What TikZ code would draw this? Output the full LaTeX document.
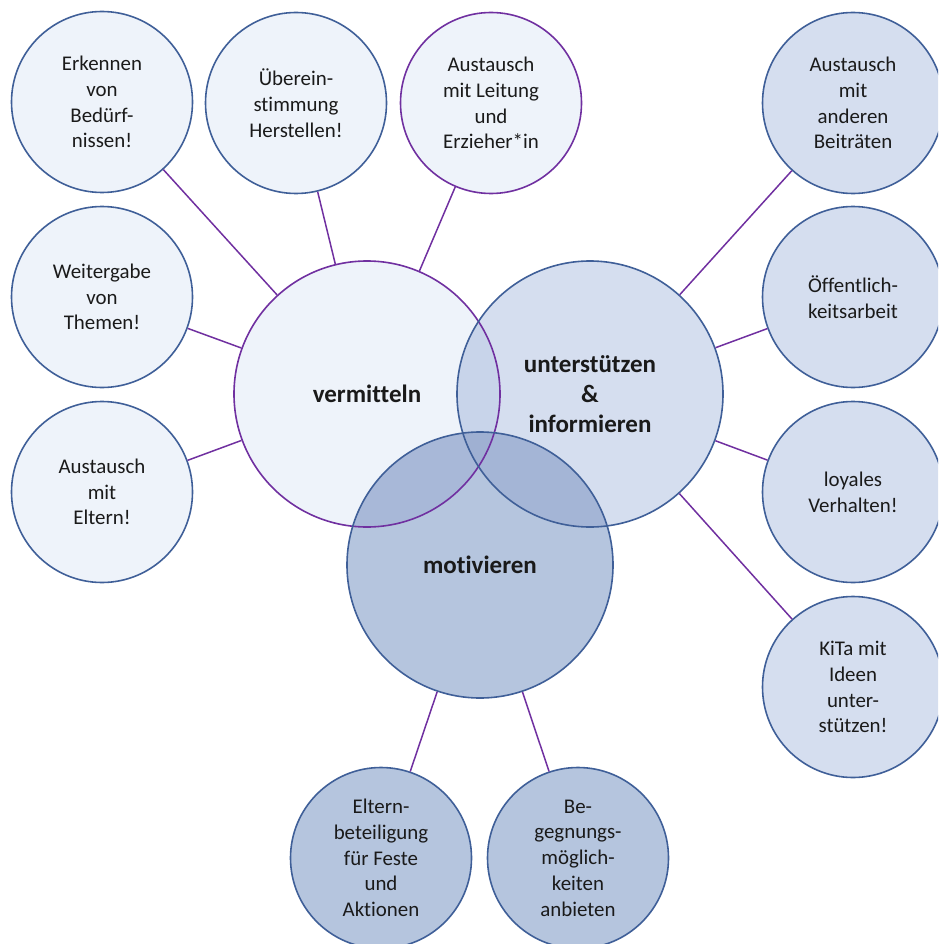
\documentclass[tikz,border=0pt]{standalone}
\usepackage{fontspec}
\setmainfont{Carlito}[Ligatures={NoCommon}]
\definecolor{lightfill}{HTML}{EEF3FA}
\definecolor{midfill}{HTML}{D5DEEF}
\definecolor{darkfill}{HTML}{B5C5DE}
\definecolor{vuover}{HTML}{C8D4EA}
\definecolor{vmover}{HTML}{A8B8D8}
\definecolor{umover}{HTML}{A4B5D6}
\definecolor{vumover}{HTML}{9FB0D2}
\definecolor{bordblue}{HTML}{3F5F98}
\definecolor{purp}{HTML}{7030A0}
\definecolor{txt}{HTML}{1A1A1A}
\begin{document}
\begin{tikzpicture}[x=1pt,y=-1pt,
  smallc/.style={circle, minimum size=181pt, inner sep=0pt, draw=bordblue, line width=1.6pt,
    align=center, text=txt, font=\fontsize{20.9}{25.8}\selectfont},
  bigc/.style={circle, minimum size=266pt, inner sep=0pt, draw=bordblue, line width=1.6pt,
    align=center, text=txt, font=\fontsize{25}{30}\selectfont\bfseries},
  conn/.style={draw=purp, line width=1.5pt}]
\useasboundingbox (0,0) rectangle (938,944);
\clip (0,0) rectangle (938,944);
\coordinate (cV) at (367,394);
\coordinate (cU) at (590,394);
\coordinate (cM) at (480,565);
% fills of the three big circles with overlaps
\fill[lightfill] (cV) circle (133pt);
\fill[midfill] (cU) circle (133pt);
\begin{scope}\clip (cV) circle (133pt);\fill[vuover] (cU) circle (133pt);\end{scope}
\fill[darkfill] (cM) circle (133pt);
\begin{scope}\clip (cM) circle (133pt);\fill[vmover] (cV) circle (133pt);\end{scope}
\begin{scope}\clip (cM) circle (133pt);\fill[umover] (cU) circle (133pt);\end{scope}
\begin{scope}\clip (cM) circle (133pt);\clip (cV) circle (133pt);\fill[vumover] (cU) circle (133pt);\end{scope}
% big nodes
\node[bigc, draw=purp] (V) at (cV) {vermitteln};
\node[bigc] (U) at (cU) {unterstützen\\\&\\informieren};
\node[bigc] (M) at (cM) {motivieren};
% small nodes
\node[smallc, fill=lightfill] (E1) at (102,102) {Erkennen\\von\\Bedürf-\\nissen!};
\node[smallc, fill=lightfill] (E2) at (296,103) {Überein-\\stimmung\\Herstellen!};
\node[smallc, fill=lightfill, draw=purp] (E3) at (491,103) {Austausch\\mit Leitung\\und\\Erzieher*in};
\node[smallc, fill=lightfill] (W) at (102,297) {Weitergabe\\von\\Themen!};
\node[smallc, fill=lightfill] (AE) at (102,492) {Austausch\\mit\\Eltern!};
\node[smallc, fill=midfill] (R1) at (853,103) {Austausch\\mit\\anderen\\Beiträten};
\node[smallc, fill=midfill] (R2) at (853,297) {Öffentlich-\\keitsarbeit};
\node[smallc, fill=midfill] (R3) at (853,492) {loyales\\Verhalten!};
\node[smallc, fill=midfill] (R4) at (853,687) {KiTa mit\\Ideen\\unter-\\stützen!};
\node[smallc, fill=darkfill] (B1) at (381,858) {Eltern-\\beteiligung\\für Feste\\und\\Aktionen};
\node[smallc, fill=darkfill] (B2) at (578,858) {Be-\\gegnungs-\\möglich-\\keiten\\anbieten};
% connectors
\draw[conn] (E1) -- (V);
\draw[conn] (E2) -- (V);
\draw[conn] (E3) -- (V);
\draw[conn] (W) -- (V);
\draw[conn] (AE) -- (V);
\draw[conn] (R1) -- (U);
\draw[conn] (R2) -- (U);
\draw[conn] (R3) -- (U);
\draw[conn] (R4) -- (U);
\draw[conn] (B1) -- (M);
\draw[conn] (B2) -- (M);
\end{tikzpicture}
\end{document}
